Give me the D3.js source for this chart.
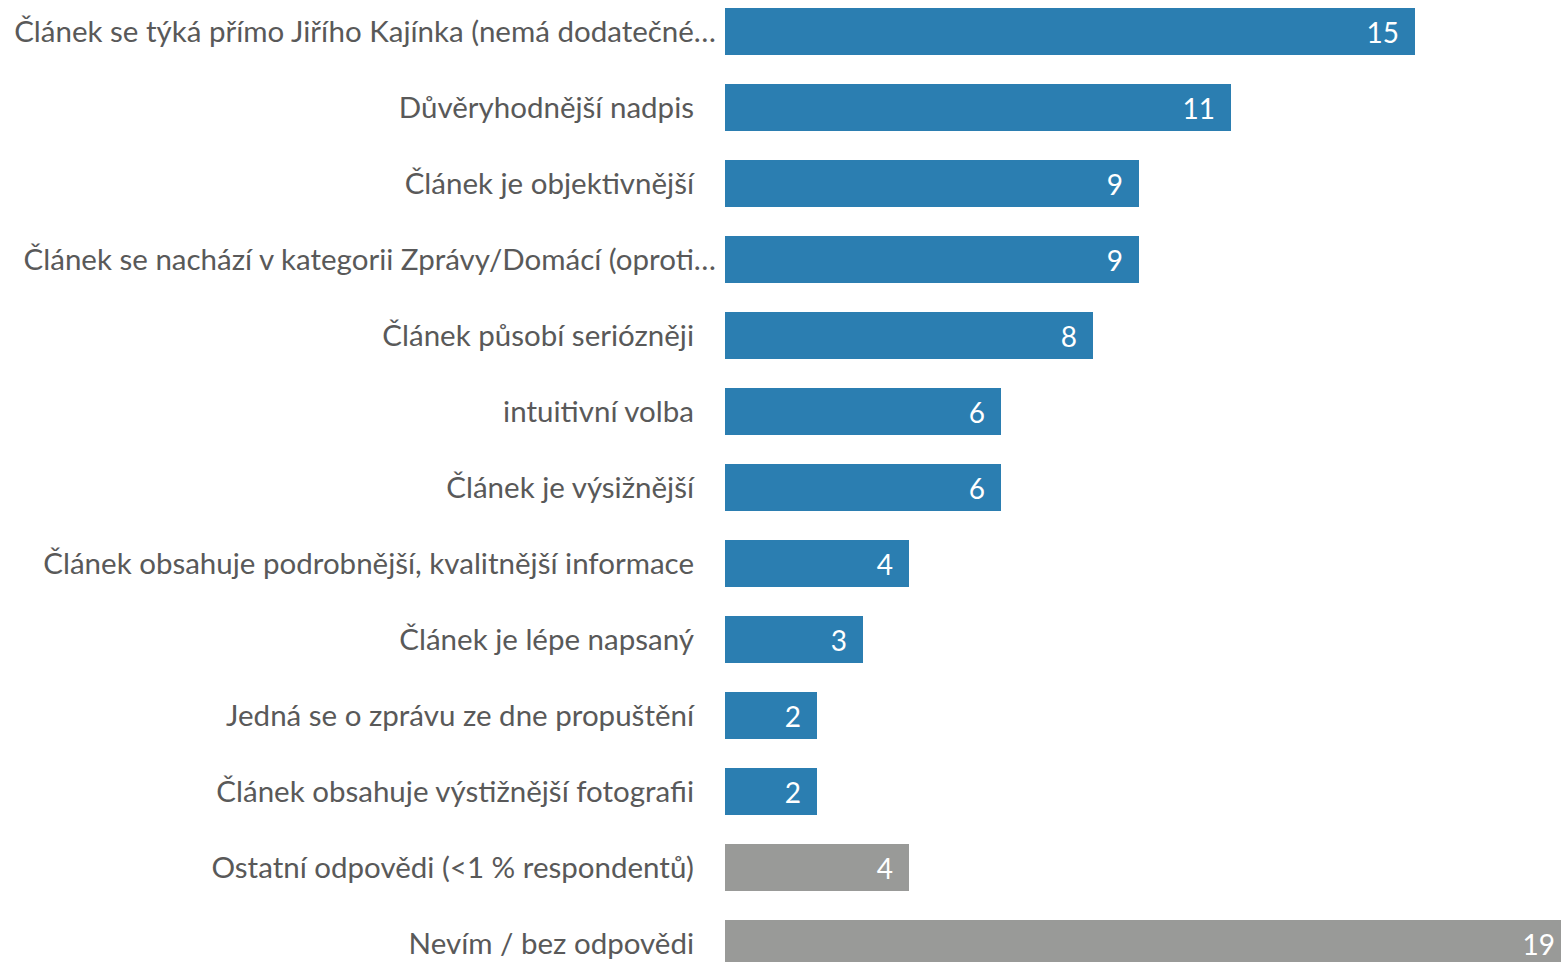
<!DOCTYPE html>
<html>
<head>
<meta charset="utf-8">
<script src="https://cdn.jsdelivr.net/npm/d3@7"></script>
<style>
  html, body { margin: 0; padding: 0; background: #fff; overflow: hidden; }
  svg { display: block; }
</style>
</head>
<body>
<svg id="chart" width="1561" height="962"></svg>
<script>
// Reasons given for choosing the article
const categories = [
  "Článek se týká přímo Jiřího Kajínka (nemá dodatečné…",
  "Důvěryhodnější nadpis",
  "Článek je objektivnější",
  "Článek se nachází v kategorii Zprávy/Domácí (oproti…",
  "Článek působí seriózněji",
  "intuitivní volba",
  "Článek je výsižnější",
  "Článek obsahuje podrobnější, kvalitnější informace",
  "Článek je lépe napsaný",
  "Jedná se o zprávu ze dne propuštění",
  "Článek obsahuje výstižnější fotografii",
  "Ostatní odpovědi (<1 % respondentů)",
  "Nevím / bez odpovědi"
];
const values = [15, 11, 9, 9, 8, 6, 6, 4, 3, 2, 2, 4, 19];
const groups = ["reason", "reason", "reason", "reason", "reason", "reason", "reason",
                "reason", "reason", "reason", "reason", "other", "other"];
const truncated = [true, false, false, true, false, false, false, false, false, false, false, false, false];

const W = 1561, H = 962;
const svg = d3.select("#chart");

// The longest bar runs past the right edge of the view
const x = d3.scaleLinear().domain([0, 19]).range([725, 1599]);
const y = d3.scaleBand()
  .domain(categories)
  .range([-6.5, 981.5])
  .paddingInner(0.3816)
  .paddingOuter(0.1908);

const color = d3.scaleOrdinal().domain(["reason", "other"]).range(["#2B7EB1", "#999A98"]);
const fontFamily = "Lato, 'Open Sans', sans-serif";

const rows = categories.map((c, i) => ({ c, v: values[i], g: groups[i], t: truncated[i] }));

svg.append("g").selectAll("rect")
  .data(rows)
  .join("rect")
  .attr("x", x(0))
  .attr("y", d => y(d.c))
  .attr("width", d => x(d.v) - x(0))
  .attr("height", y.bandwidth())
  .attr("fill", d => color(d.g));

// Category labels
svg.append("g").selectAll("text")
  .data(rows)
  .join("text")
  .attr("x", d => d.t ? 716 : 694)
  .attr("y", d => y(d.c) + y.bandwidth() / 2)
  .attr("dy", "0.35em")
  .attr("text-anchor", "end")
  .attr("fill", "#595959")
  .style("font-family", fontFamily)
  .style("font-size", "29.5px")
  .text(d => d.c);

// Value labels inside the bar ends, kept within the visible area
svg.append("g").selectAll("text")
  .data(rows)
  .join("text")
  .attr("x", d => Math.min(x(d.v), W + 10) - 16)
  .attr("y", d => y(d.c) + y.bandwidth() / 2)
  .attr("dy", "0.4em")
  .attr("text-anchor", "end")
  .attr("fill", "#ffffff")
  .style("font-family", fontFamily)
  .style("font-size", "28px")
  .text(d => d.v);
</script>
</body>
</html>
